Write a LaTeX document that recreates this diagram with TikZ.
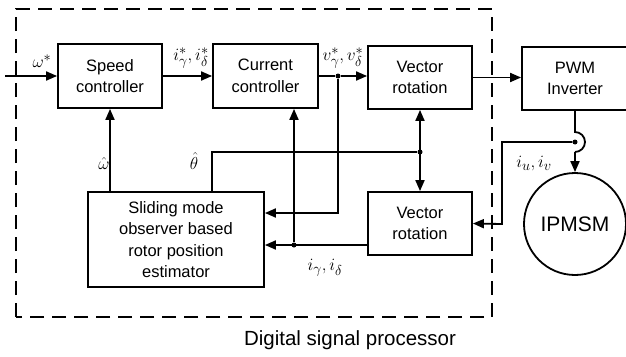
\documentclass[tikz,border=0pt]{standalone}
\usepackage{fontspec}
\setmainfont{Liberation Sans}
\usetikzlibrary{arrows.meta}
\begin{document}
\begin{tikzpicture}[x=1pt,y=-1pt,
  blk/.style={draw,line width=1.8pt,align=center,inner sep=0pt,font=\fontsize{16.5}{21.5}\selectfont},
  conn/.style={line width=1.8pt},
  arr/.style={line width=1.8pt,-{Triangle[length=11pt,width=9pt]}},
  darr/.style={line width=1.8pt,{Triangle[length=11pt,width=9pt]}-{Triangle[length=11pt,width=9pt]}},
  dotc/.style={circle,fill,inner sep=0pt,minimum size=5pt},
  lbl/.style={font=\fontsize{19}{21}\selectfont,inner sep=1pt},
]
\useasboundingbox (0,0) rectangle (626,356);
% dashed DSP boundary
\draw[line width=1.8pt,dash pattern=on 14pt off 8pt] (16,317) -- (16,9) -- (492,9) -- (492,317) -- cycle;
% blocks
\node[blk,minimum width=104pt,minimum height=64pt] (sc) at (110,76) {Speed\\controller};
\node[blk,minimum width=105pt,minimum height=64pt] (cc) at (265.5,76) {Current\\controller};
\node[blk,minimum width=104pt,minimum height=63pt] (vr1) at (420,77.5) {Vector\\rotation};
\node[blk,minimum width=106pt,minimum height=63pt] (pwm) at (575,78.5) {PWM\\Inverter};
\node[blk,minimum width=176pt,minimum height=95pt] (smo) at (176,239.5) {Sliding mode\\observer based\\rotor position\\estimator};
\node[blk,minimum width=104pt,minimum height=63pt] (vr2) at (420,223.5) {Vector\\rotation};
\node[draw,circle,line width=1.8pt,minimum size=102pt,inner sep=0pt,font=\fontsize{21}{24}\selectfont] (m) at (575,224) {IPMSM};
% coordinates
\coordinate (in) at (5,76);
\node[dotc] (dv) at (338,76) {};
\node[dotc] (dth) at (420,152) {};
\node[dotc] (di) at (294,245) {};
\node[dotc] (dm) at (575,142) {};
\coordinate (th0) at (212,152);
% top chain
\draw[arr] (in) -- (sc.west);
\draw[arr] (sc.east) -- (cc.west);
\draw[conn] (cc.east) -- (dv);
\draw[arr] (dv) -- (vr1.west |- dv);
\draw[arr] (vr1.east) -- (pwm.west |- vr1.east);
% PWM to motor with hop
\draw[conn] (pwm.south) -- (575,132) arc[start angle=-90,end angle=90,radius=10];
\draw[arr] (575,152) -- (m.north);
% measured currents
\draw[arr] (dm) -- (502,142) -- (502,224) -- (vr2.east);
% vector rotation feedback
\draw[darr] (vr1.south) -- (vr2.north);
% omega hat
\draw[arr] (smo.north -| sc.south) -- (sc.south);
% theta hat
\draw[conn] (smo.north -| th0) -- (th0) -- (dth);
% v* to observer
\draw[arr] (dv) -- (338,213) -- (smo.east |- 0,213);
% i to observer and current controller
\draw[arr] (vr2.west |- di) -- (smo.east |- di);
\draw[arr] (di) -- (cc.south -| di);
% labels
\node[lbl] (lw) at (42,61) {$\omega^{*}$};
\node[lbl] (li) at (191,58) {$i_{\gamma}^{*},i_{\delta}^{*}$};
\node[lbl] (lv) at (343,58) {$v_{\gamma}^{*},v_{\delta}^{*}$};
\node[lbl] (lwh) at (104,163) {$\hat{\omega}$};
\node[lbl] (lth) at (194,161) {$\hat{\theta}$};
\node[lbl] (liu) at (534,164) {$i_{u},i_{v}$};
\node[lbl] (lig) at (325,268) {$i_{\gamma},i_{\delta}$};
\node[font=\fontsize{20.5}{24}\selectfont] (dsp) at (350,340) {Digital signal processor};
\end{tikzpicture}
\end{document}
